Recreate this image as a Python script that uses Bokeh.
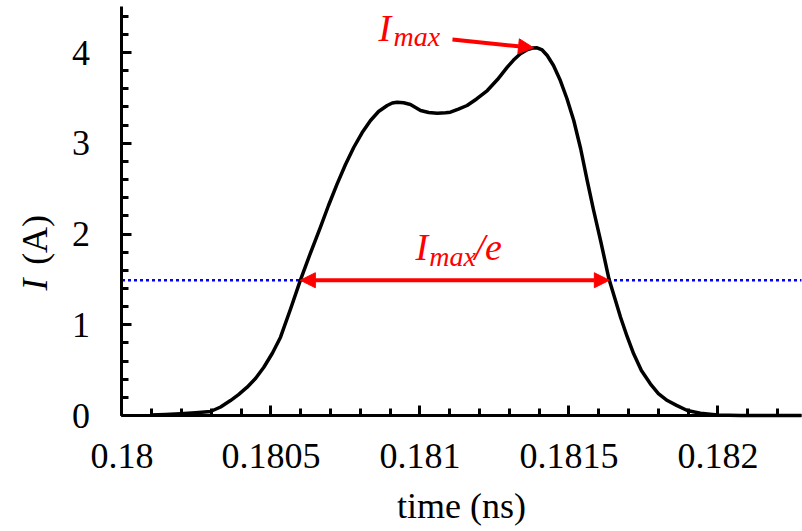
import numpy as np
from bokeh.plotting import figure
from bokeh.models import Arrow, NormalHead, Label, FixedTicker, PrintfTickFormatter, Range1d
from bokeh.embed import file_html
from bokeh.resources import INLINE

# ---- data ----
time_ns = [0.180096, 0.180146, 0.180196, 0.180247, 0.180297, 0.180331, 0.180364, 0.180391,
           0.180420, 0.180448, 0.180476, 0.180505, 0.180532, 0.180565, 0.180599, 0.180633,
           0.180666, 0.180693, 0.180722, 0.180750, 0.180778, 0.180806, 0.180834, 0.180861,
           0.180890, 0.180907, 0.180923, 0.180945, 0.180968, 0.180985, 0.181002, 0.181029,
           0.181058, 0.181086, 0.181102, 0.181129, 0.181158, 0.181190, 0.181226, 0.181260,
           0.181293, 0.181314, 0.181337, 0.181361, 0.181378, 0.181393, 0.181410, 0.181427,
           0.181448, 0.181471, 0.181493, 0.181516, 0.181539, 0.181561, 0.181582, 0.181606,
           0.181634, 0.181653, 0.181673, 0.181695, 0.181717, 0.181743, 0.181773, 0.181800,
           0.181830, 0.181861, 0.181897, 0.181941, 0.181998, 0.182076, 0.182280]
current_A = [0.0055, 0.011, 0.019, 0.030, 0.044, 0.094, 0.165, 0.231,
             0.312, 0.408, 0.532, 0.689, 0.863, 1.168, 1.495, 1.796,
             2.075, 2.314, 2.553, 2.766, 2.956, 3.118, 3.251, 3.350,
             3.416, 3.444, 3.452, 3.446, 3.427, 3.394, 3.361, 3.339,
             3.331, 3.337, 3.342, 3.375, 3.416, 3.488, 3.581, 3.702,
             3.838, 3.917, 3.986, 4.033, 4.050, 4.052, 4.028, 3.967,
             3.857, 3.691, 3.493, 3.251, 2.942, 2.590, 2.270, 1.928,
             1.506, 1.300, 1.083, 0.871, 0.680, 0.496, 0.349, 0.242,
             0.165, 0.112, 0.055, 0.025, 0.0055, 0.0, 0.0]

x_ticks = [0.18, 0.1805, 0.181, 0.1815, 0.182]
x_minor_ticks = [0.18 + 0.0001 * i for i in range(23)]
y_ticks = [0, 1, 2, 3, 4]
y_minor_ticks = [0.2 * i for i in range(23)]
X_AXIS_END = 0.18228
Y_AXIS_END = 4.507

FONT = "'Liberation Serif', 'Times New Roman', serif"

t = np.array(time_ns)
cur = np.array(current_A)
i_peak = int(np.argmax(cur))
t_peak, imax = t[i_peak], cur[i_peak]
level = imax / np.e
rise = np.interp(level, cur[:i_peak // 2], t[:i_peak // 2])
fall = np.interp(level, cur[i_peak:][::-1], t[i_peak:][::-1])

# the frame covers the whole canvas; axes are pinned at the data origin
p = figure(width=802, height=531, x_range=Range1d(0.1795923, 0.1822836),
           y_range=Range1d(-1.278, 4.573),
           output_backend="svg", toolbar_location=None,
           min_border=0, min_border_left=0, min_border_right=0,
           min_border_top=0, min_border_bottom=0)
p.outline_line_color = None
p.xgrid.visible = False
p.ygrid.visible = False
p.background_fill_color = "white"
p.border_fill_color = "white"

for ax in (p.xaxis[0], p.yaxis[0]):
    ax.axis_line_width = 3
    ax.axis_line_color = "black"
    ax.major_tick_line_width = 3
    ax.minor_tick_line_width = 3
    ax.major_tick_line_color = "black"
    ax.minor_tick_line_color = "black"
    ax.major_tick_in = 10
    ax.major_tick_out = 0
    ax.minor_tick_in = 7
    ax.minor_tick_out = 0
    ax.major_label_text_font = FONT
    ax.major_label_text_font_size = "36px"
    ax.major_label_text_color = "black"

xa = p.xaxis[0]
xa.fixed_location = 0
xa.bounds = (x_ticks[0], X_AXIS_END)
xa.ticker = FixedTicker(ticks=x_ticks, minor_ticks=x_minor_ticks)
xa.formatter = PrintfTickFormatter(format="%g")
xa.major_label_standoff = 28
xa.axis_label = "time (ns)"
xa.axis_label_text_font = FONT
xa.axis_label_text_font_size = "36px"
xa.axis_label_text_font_style = "normal"
xa.axis_label_text_color = "black"
xa.axis_label_standoff = 15

ya = p.yaxis[0]
ya.fixed_location = x_ticks[0]
ya.bounds = (0, Y_AXIS_END)
ya.ticker = FixedTicker(ticks=y_ticks, minor_ticks=y_minor_ticks)
ya.major_label_standoff = 32

# 1/e level line (dotted, across the plotting area)
p.line([x_ticks[0], X_AXIS_END], [level, level], line_color="#0000ff",
       line_dash="3 3", line_width=2.5)

p.line(t, cur, line_color="black", line_width=3.5, line_join="round")

# width arrow
p.add_layout(Arrow(x_start=rise, y_start=level, x_end=fall, y_end=level,
                   line_color="red", line_width=4,
                   start=NormalHead(size=15, fill_color="red", line_color="red"),
                   end=NormalHead(size=15, fill_color="red", line_color="red")))
# arrow to the maximum
p.add_layout(Arrow(x_start=t_peak - 0.000284, y_start=imax + 0.09, x_end=t_peak - 0.000012, y_end=imax,
                   line_color="red", line_width=4,
                   end=NormalHead(size=15, fill_color="red", line_color="red")))

def lab(x, y, text, size, style="italic", color="red", angle=0):
    p.add_layout(Label(x=x, y=y, text=text, text_font=FONT, text_font_size=size,
                       text_font_style=style, text_color=color, text_align="left",
                       text_baseline="alphabetic", angle=angle, angle_units="deg"))

# I_max label at top
lab(t_peak - 0.000532, imax + 0.22, "I", "38px")
lab(t_peak - 0.000482, imax + 0.12, "max", "28px")
# I_max / e label
lab(t_peak - 0.000408, level + 0.37, "I", "38px")
lab(t_peak - 0.000362, level + 0.26, "max", "28px")
lab(t_peak - 0.000210, level + 0.37, "/e", "38px")

# y axis label
lab(0.1797067, 1.377, "I", "36px", color="black", angle=90)
lab(0.1797067, 1.66, "(A)", "36px", style="normal", color="black", angle=90)

open("out.html", "w").write(file_html(p, INLINE))
